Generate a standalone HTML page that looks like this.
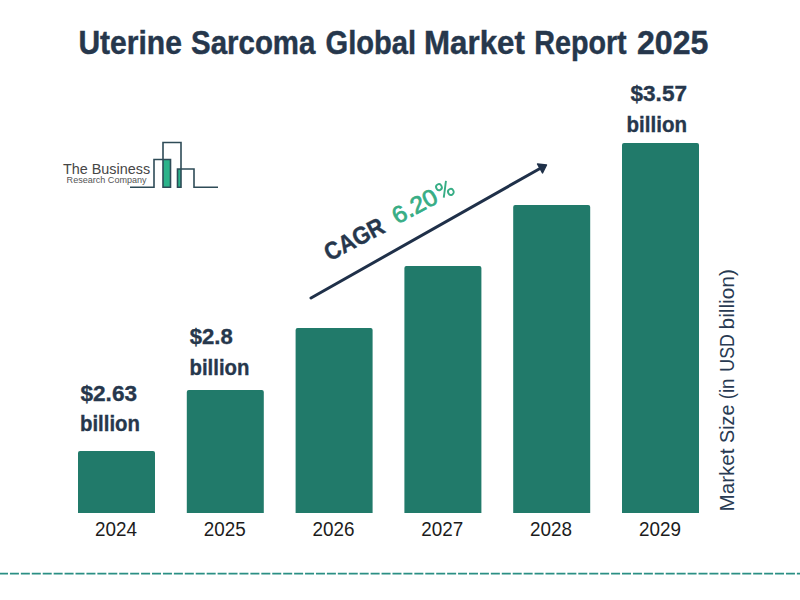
<!DOCTYPE html>
<html><head><meta charset="utf-8"><style>
html,body{margin:0;padding:0;background:#fff;width:800px;height:600px;overflow:hidden}
svg{display:block;font-family:"Liberation Sans",sans-serif}
</style></head><body>
<svg width="800" height="600" viewBox="0 0 800 600">
<g font-size="32.5" font-weight="bold" fill="#26374c" stroke="#26374c" stroke-width="0.45">
<text x="78.4" y="53.75" textLength="103.5" lengthAdjust="spacingAndGlyphs">Uterine</text>
<text x="191.1" y="53.75" textLength="124.3" lengthAdjust="spacingAndGlyphs">Sarcoma</text>
<text x="325.6" y="53.75" textLength="90.5" lengthAdjust="spacingAndGlyphs">Global</text>
<text x="424.1" y="53.75" textLength="100.7" lengthAdjust="spacingAndGlyphs">Market</text>
<text x="534.2" y="53.75" textLength="92.5" lengthAdjust="spacingAndGlyphs">Report</text>
<text x="637" y="53.75" textLength="71.3" lengthAdjust="spacingAndGlyphs">2025</text>
</g>
<path d="M78.0,513 V453 Q78.0,451 80.0,451 H153.0 Q155.0,451 155.0,453 V513 Z" fill="#217a6a"/>
<path d="M186.8,513 V392 Q186.8,390 188.8,390 H261.8 Q263.8,390 263.8,392 V513 Z" fill="#217a6a"/>
<path d="M295.6,513 V330 Q295.6,328 297.6,328 H370.6 Q372.6,328 372.6,330 V513 Z" fill="#217a6a"/>
<path d="M404.4,513 V268 Q404.4,266 406.4,266 H479.4 Q481.4,266 481.4,268 V513 Z" fill="#217a6a"/>
<path d="M513.2,513 V207 Q513.2,205 515.2,205 H588.2 Q590.2,205 590.2,207 V513 Z" fill="#217a6a"/>
<path d="M622.0,513 V145 Q622.0,143 624.0,143 H697.0 Q699.0,143 699.0,145 V513 Z" fill="#217a6a"/>
<text x="115.9" y="535.6" text-anchor="middle" font-size="19.3" fill="#1c1c1c" textLength="42" lengthAdjust="spacingAndGlyphs">2024</text>
<text x="224.7" y="535.6" text-anchor="middle" font-size="19.3" fill="#1c1c1c" textLength="42" lengthAdjust="spacingAndGlyphs">2025</text>
<text x="333.5" y="535.6" text-anchor="middle" font-size="19.3" fill="#1c1c1c" textLength="42" lengthAdjust="spacingAndGlyphs">2026</text>
<text x="442.3" y="535.6" text-anchor="middle" font-size="19.3" fill="#1c1c1c" textLength="42" lengthAdjust="spacingAndGlyphs">2027</text>
<text x="551.1" y="535.6" text-anchor="middle" font-size="19.3" fill="#1c1c1c" textLength="42" lengthAdjust="spacingAndGlyphs">2028</text>
<text x="659.9" y="535.6" text-anchor="middle" font-size="19.3" fill="#1c1c1c" textLength="42" lengthAdjust="spacingAndGlyphs">2029</text>
<g font-weight="bold" font-size="22.2" fill="#26374c" stroke="#26374c" stroke-width="0.35">
<text x="80.5" y="400.6" textLength="56.5" lengthAdjust="spacingAndGlyphs">$2.63</text>
<text x="80" y="430.7" textLength="60" lengthAdjust="spacingAndGlyphs">billion</text>
<text x="189.8" y="344" textLength="43" lengthAdjust="spacingAndGlyphs">$2.8</text>
<text x="189.5" y="374.5" textLength="60" lengthAdjust="spacingAndGlyphs">billion</text>
<text x="630.5" y="101.3" textLength="56.5" lengthAdjust="spacingAndGlyphs">$3.57</text>
<text x="626.5" y="131.6" textLength="60.5" lengthAdjust="spacingAndGlyphs">billion</text>
</g>
<g font-size="19.5" fill="#283a52">
<text transform="translate(734,511.5) rotate(-90)" textLength="63" lengthAdjust="spacingAndGlyphs">Market</text>
<text transform="translate(734,442.9) rotate(-90)" textLength="38.25" lengthAdjust="spacingAndGlyphs">Size</text>
<text transform="translate(734,399.25) rotate(-90)" textLength="20.7" lengthAdjust="spacingAndGlyphs">(in</text>
<text transform="translate(734,371.7) rotate(-90)" textLength="37.5" lengthAdjust="spacingAndGlyphs">USD</text>
<text transform="translate(734,329.4) rotate(-90)" textLength="60.3" lengthAdjust="spacingAndGlyphs">billion)</text>
</g>
<text transform="translate(329.4,261.4) rotate(-27.5)" font-size="24.5" font-weight="bold" fill="#26374c" stroke="#26374c" stroke-width="0.4" textLength="64.5" lengthAdjust="spacingAndGlyphs">CAGR</text>
<g transform="translate(397.3,224.5) rotate(-28)">
<text x="0" y="0" font-size="23.5" fill="#37ad85" stroke="#37ad85" stroke-width="0.75" textLength="48" lengthAdjust="spacingAndGlyphs">6.20</text>
<g fill="none" stroke="#37ad85" stroke-width="1.9">
<ellipse cx="54.3" cy="-13.4" rx="2.8" ry="3.0"/>
<ellipse cx="62.6" cy="-3.6" rx="2.8" ry="3.0"/>
<line x1="63.4" y1="-15.6" x2="53.6" y2="-1.8"/>
</g>
</g>
<line x1="311" y1="298" x2="540" y2="168.5" stroke="#1f3049" stroke-width="3" stroke-linecap="round"/>
<path d="M546.5,165 L537.5,164 L542.5,173 Z" fill="#1f3049" stroke="#1f3049" stroke-width="1.4" stroke-linejoin="round"/>
<g>
<rect x="163" y="159.5" width="7.5" height="27.5" fill="#2bb38a"/>
<rect x="177.5" y="169" width="3.5" height="18" fill="#2bb38a"/>
<path d="M130,187.2 H154 V159.5 H170.5 V187.2 H163 V142.5 H181 V187.2 H177.5 V169 H194 V187.2 H218" fill="none" stroke="#2e4b57" stroke-width="1.6"/>
<text x="62.9" y="174.3" font-size="15" fill="#464646" textLength="87.2" lengthAdjust="spacingAndGlyphs">The Business</text>
<text x="66.6" y="182.8" font-size="8.8" fill="#555" textLength="80" lengthAdjust="spacingAndGlyphs">Research Company</text>
</g>
<line x1="-1" y1="573.6" x2="800" y2="573.6" stroke="#2b8f84" stroke-width="1.9" stroke-dasharray="9 1.93"/>
</svg>
</body></html>
